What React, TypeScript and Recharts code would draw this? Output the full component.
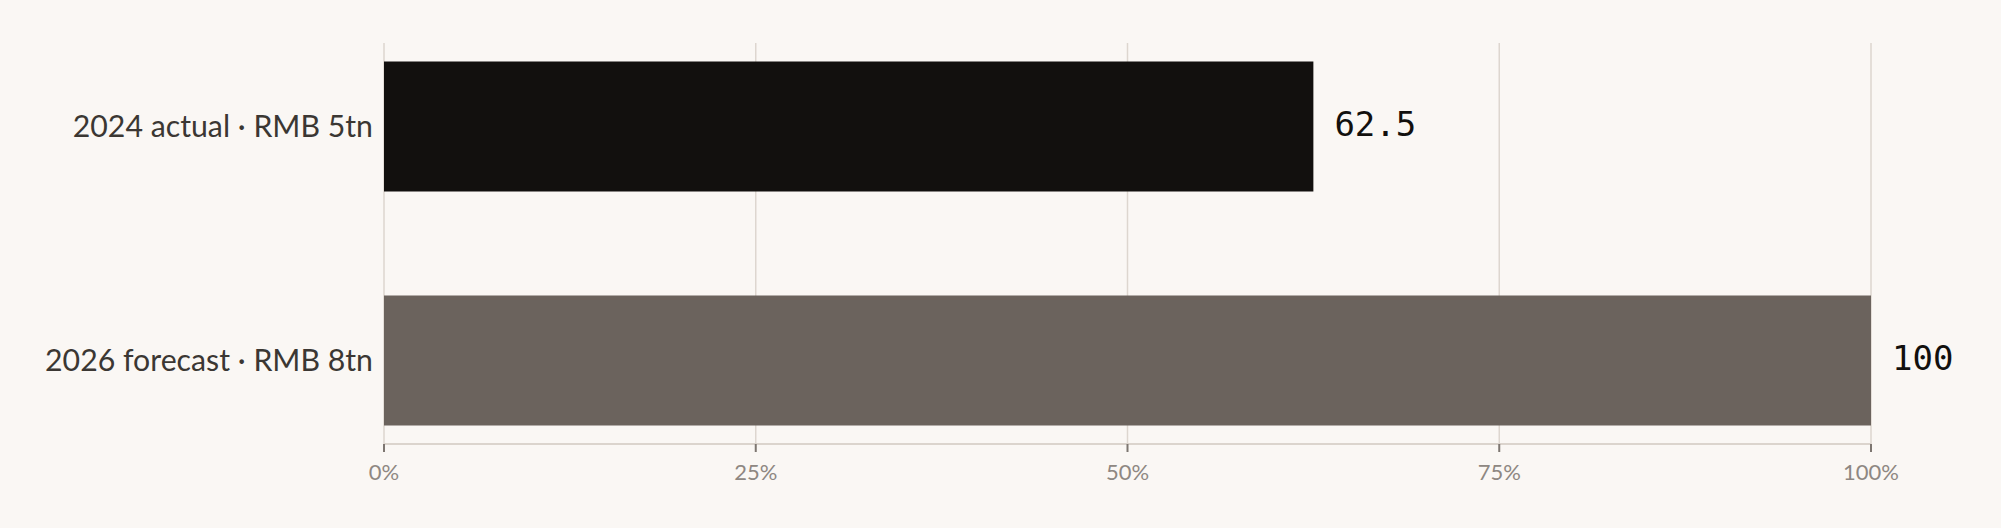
import React from 'react';
import { BarChart, Bar, XAxis, YAxis, CartesianGrid, Cell, LabelList } from 'recharts';

const categories = ['2024 actual · RMB 5tn', '2026 forecast · RMB 8tn'];
const shares = [62.5, 100];
const shareLabels = ['62.5', '100'];
const barColors = ['#12100e', '#6b635d'];
const xTicks = [0, 25, 50, 75, 100];

const data = categories.map((name, i) => ({
  name,
  value: shares[i],
  label: shareLabels[i],
}));

export default function App() {
  return (
    <div style={{ position: 'absolute', left: 0, top: 0, width: 2001, height: 528, background: '#faf7f4' }}>
      <BarChart
        width={2001}
        height={528}
        layout="vertical"
        data={data}
        margin={{ top: 43, right: 130, bottom: 54, left: 0 }}
      >
        <CartesianGrid horizontal={false} stroke="#ddd6cf" strokeWidth={1.5} />
        <XAxis
          type="number"
          domain={[0, 100]}
          ticks={xTicks}
          tickFormatter={(v) => `${v}%`}
          height={30}
          axisLine={{ stroke: '#dbd4cd', strokeWidth: 2 }}
          tickLine={{ stroke: '#7d7671', strokeWidth: 2 }}
          tickSize={8}
          tickMargin={12}
          tick={{ fill: '#8e8782', fontSize: 22, fontFamily: 'Lato' }}
        />
        <YAxis
          type="category"
          dataKey="name"
          width={384}
          padding={{ top: -33.5, bottom: -33.5 }}
          axisLine={false}
          tickLine={false}
          tickSize={0}
          tickMargin={11}
          tick={{ fill: '#3b3733', fontSize: 30.25, fontFamily: 'Lato' }}
        />
        <Bar dataKey="value" barSize={130} isAnimationActive={false}>
          {data.map((d, i) => (
            <Cell key={d.name} fill={barColors[i]} />
          ))}
          <LabelList
            dataKey="label"
            position="right"
            offset={21}
            dy={-3}
            style={{ fill: '#12100e', fontSize: 34, fontFamily: "'DejaVu Sans Mono', monospace" }}
          />
        </Bar>
      </BarChart>
    </div>
  );
}
